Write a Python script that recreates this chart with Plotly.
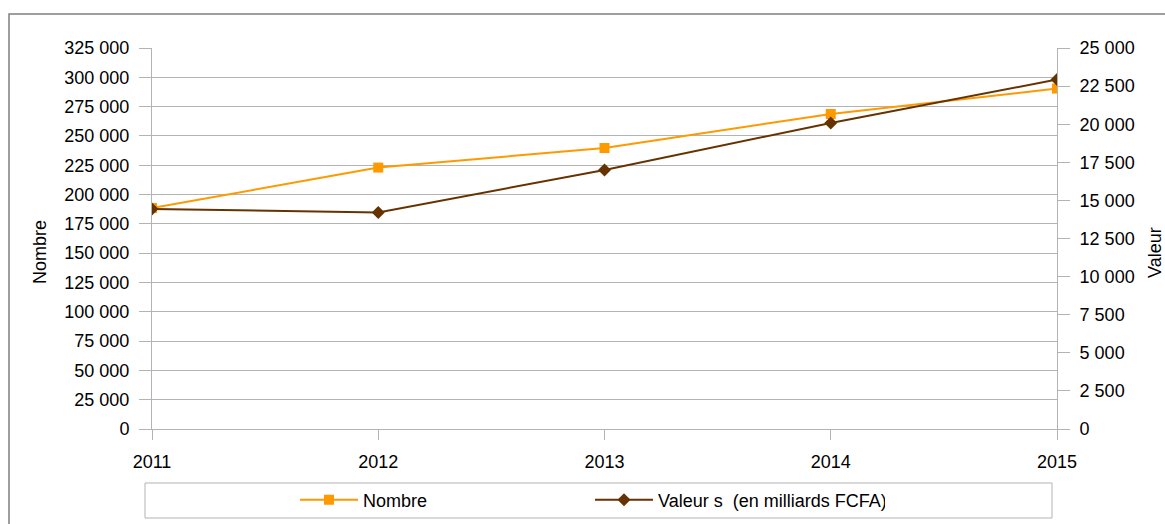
import plotly.graph_objects as go

years = [2011, 2012, 2013, 2014, 2015]
nombre = [188500, 223000, 239700, 268700, 290400]
valeur = [14440, 14210, 17000, 20080, 22930]
year_labels = ["2011", "2012", "2013", "2014", "2015"]

W, H = 1165, 524
L, R, T, B = 152, 108, 48, 95
pw, ph = W - L - R, H - T - B

def px(x):
    return (x - L) / pw

def py(y):
    return (H - B - y) / ph

FONT = "Liberation Sans, Arial, sans-serif"
GRID = "#b3b3b3"
ORANGE = "#ff9900"
BROWN = "#663300"

fig = go.Figure()
fig.add_trace(go.Scatter(
    x=years, y=nombre, name="Nombre", mode="lines+markers",
    line=dict(color=ORANGE, width=2),
    marker=dict(symbol="square", size=10, color=ORANGE),
))
fig.add_trace(go.Scatter(
    x=years, y=valeur, name="Valeur s  (en milliards FCFA)", mode="lines+markers",
    line=dict(color=BROWN, width=2),
    marker=dict(symbol="diamond", size=10, color=BROWN),
    yaxis="y2",
))

fig.update_layout(
    width=W, height=H,
    margin=dict(l=L, r=R, t=T, b=B, pad=0, autoexpand=False),
    paper_bgcolor="white", plot_bgcolor="white",
    separators=", ",
    font=dict(family=FONT, size=18, color="black"),
    xaxis=dict(
        range=[2011, 2015], tickmode="array", tickvals=years, ticktext=year_labels,
        showgrid=False, zeroline=False, showline=True, linecolor=GRID, linewidth=1,
        ticks="outside", ticklen=10, tickcolor=GRID, tickwidth=1,
        ticklabelstandoff=6, automargin=False,
    ),
    yaxis=dict(
        range=[0, 325000], dtick=25000, tickformat=",d",
        showgrid=True, gridcolor=GRID, gridwidth=1, zeroline=False,
        showline=True, linecolor=GRID, linewidth=1,
        ticks="outside", ticklen=12, tickcolor=GRID, tickwidth=1,
        ticklabelstandoff=6, automargin=False,
    ),
    yaxis2=dict(
        range=[0, 25000], dtick=2500, tickformat=",d", overlaying="y", side="right",
        showgrid=False, zeroline=False, showline=True, linecolor=GRID, linewidth=1,
        ticks="outside", ticklen=12, tickcolor=GRID, tickwidth=1,
        ticklabelstandoff=6, automargin=False,
    ),
    legend=dict(
        orientation="h", x=px(295), xanchor="left", y=py(500), yanchor="middle",
        bgcolor="rgba(0,0,0,0)", borderwidth=0, itemwidth=58,
        entrywidth=222, entrywidthmode="pixels",
        font=dict(family=FONT, size=18, color="black"),
    ),
    showlegend=True,
)

fig.add_shape(type="rect", xref="paper", yref="paper",
              x0=px(9), x1=px(1300), y0=py(700), y1=py(14),
              line=dict(color="#7f7f7f", width=1.5), fillcolor="rgba(0,0,0,0)", layer="below")
fig.add_shape(type="rect", xref="paper", yref="paper",
              x0=px(145), x1=px(1052), y0=py(518), y1=py(483),
              line=dict(color=GRID, width=1), fillcolor="rgba(0,0,0,0)", layer="below")

fig.add_annotation(text="Nombre", xref="paper", yref="paper", x=px(28), y=py(252),
                   textangle=-90, showarrow=False, font=dict(size=18, family=FONT, color="black"))
fig.add_annotation(text="Valeur", xref="paper", yref="paper", x=px(1167), y=py(253),
                   textangle=-90, showarrow=False, font=dict(size=18, family=FONT, color="black"))

fig.write_html("out.html")
